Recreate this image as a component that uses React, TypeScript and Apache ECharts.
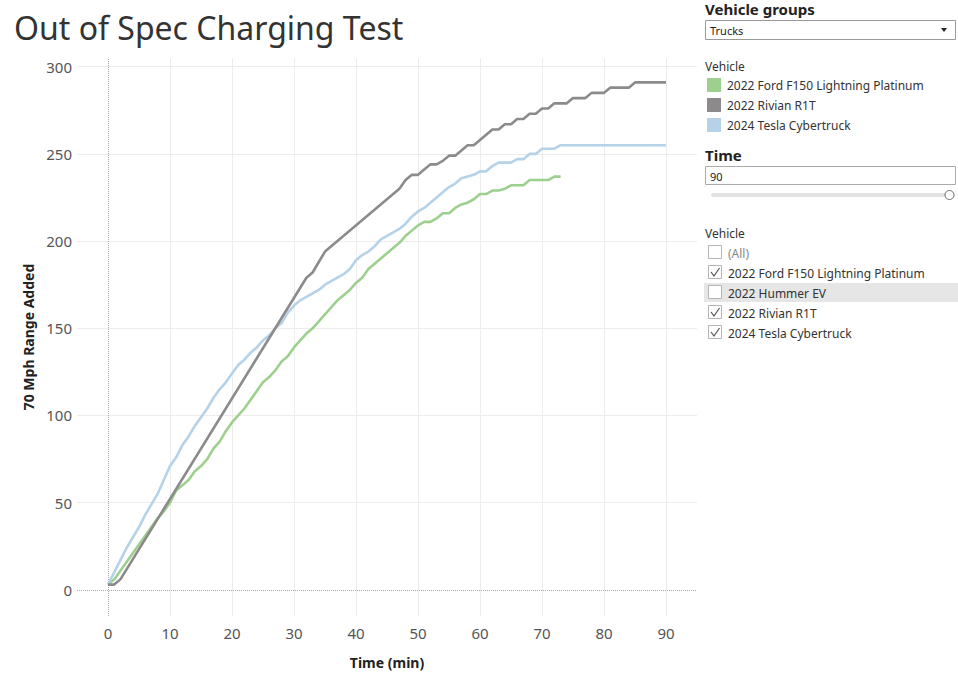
import React, { useEffect, useRef } from "react";
import * as echarts from "echarts";

const timeTicks = [0, 10, 20, 30, 40, 50, 60, 70, 80, 90];
const rangeTicks = [0, 50, 100, 150, 200, 250, 300];

const fordF150: number[][] = [
  [0, 3], [1, 6], [2, 11], [3, 16], [4, 21], [5, 26], [6, 31], [7, 36], [8, 41], [9, 45],
  [10, 50], [11, 57], [12, 60], [13, 63], [14, 68], [15, 71], [16, 75], [17, 81], [18, 85], [19, 91],
  [20, 96], [21, 100], [22, 104], [23, 109], [24, 114], [25, 119], [26, 122], [27, 126], [28, 131], [29, 134],
  [30, 139], [31, 143], [32, 147], [33, 150], [34, 154], [35, 158], [36, 162], [37, 166], [38, 169], [39, 172],
  [40, 176], [41, 179], [42, 184], [43, 187], [44, 190], [45, 193], [46, 196], [47, 199], [48, 203], [49, 206],
  [50, 209], [51, 211], [52, 211], [53, 213], [54, 216], [55, 216], [56, 219], [57, 221], [58, 222], [59, 224],
  [60, 227], [61, 227], [62, 229], [63, 229], [64, 230], [65, 232], [66, 232], [67, 232], [68, 235], [69, 235],
  [70, 235], [71, 235], [72, 237], [73, 237],
];

const rivianR1T: number[][] = [
  [0, 3], [1, 3], [2, 6], [32, 179], [33, 182], [34, 188], [35, 194], [47, 230], [48, 235], [49, 238],
  [50, 238], [51, 241], [52, 244], [53, 244], [54, 246], [55, 249], [56, 249], [57, 252], [58, 255], [59, 255],
  [60, 258], [61, 261], [62, 264], [63, 264], [64, 267], [65, 267], [66, 270], [67, 270], [68, 273], [69, 273],
  [70, 276], [71, 276], [72, 279], [73, 279], [74, 279], [75, 282], [76, 282], [77, 282], [78, 285], [79, 285],
  [80, 285], [81, 288], [82, 288], [83, 288], [84, 288], [85, 291], [86, 291], [87, 291], [88, 291], [89, 291],
  [90, 291],
];

const teslaCybertruck: number[][] = [
  [0, 3], [1, 10], [2, 17], [3, 24], [4, 30], [5, 36], [6, 43], [7, 49], [8, 55], [9, 63],
  [10, 71], [11, 76], [12, 83], [13, 88], [14, 94], [15, 99], [16, 104], [17, 110], [18, 115], [19, 119],
  [20, 124], [21, 129], [22, 132], [23, 136], [24, 139], [25, 143], [26, 146], [27, 150], [28, 153], [29, 159],
  [30, 163], [31, 166], [32, 168], [33, 170], [34, 172], [35, 175], [36, 177], [37, 179], [38, 181], [39, 184],
  [40, 189], [41, 192], [42, 194], [43, 197], [44, 201], [45, 203], [46, 205], [47, 207], [48, 210], [49, 214],
  [50, 217], [51, 219], [52, 222], [53, 225], [54, 228], [55, 231], [56, 233], [57, 236], [58, 237], [59, 238],
  [60, 240], [61, 240], [62, 243], [63, 245], [64, 245], [65, 245], [66, 247], [67, 247], [68, 250], [69, 250],
  [70, 253], [71, 253], [72, 253], [73, 255], [74, 255], [75, 255], [76, 255], [77, 255], [78, 255], [79, 255],
  [80, 255], [81, 255], [82, 255], [83, 255], [84, 255], [85, 255], [86, 255], [87, 255], [88, 255], [89, 255],
  [90, 255],
];

const seriesNames = ["2022 Ford F150 Lightning Platinum", "2022 Rivian R1T", "2024 Tesla Cybertruck"];
const seriesColors = ["#9dd08e", "#8c8a8a", "#b5d2e8"];
const seriesData = [fordF150, rivianR1T, teslaCybertruck];

const filterVehicles = ["(All)", "2022 Ford F150 Lightning Platinum", "2022 Hummer EV", "2022 Rivian R1T", "2024 Tesla Cybertruck"];
const filterChecked = [false, true, false, true, true];

const titleText = "Out of Spec Charging Test";
const vehicleGroup = "Trucks";
const timeValue = "90";

const FONT = "'Noto Sans', 'Open Sans', sans-serif";

export default function App() {
  const ref = useRef<HTMLDivElement>(null);

  useEffect(() => {
    if (!ref.current) return;
    const chart = echarts.init(ref.current, undefined, { renderer: "svg" });

    const panelX = 705;
    const graphics: any[] = [];
    graphics.push({
      type: "text", left: 14, top: 11,
      style: { text: titleText, font: `400 32px ${FONT}`, fill: "#333" },
    });
    graphics.push({
      type: "text", x: panelX, y: 9,
      style: { text: "Vehicle groups", font: `700 15px ${FONT}`, fill: "#222", verticalAlign: "middle" },
    });
    graphics.push({
      type: "rect", shape: { x: 705.5, y: 20.5, width: 250, height: 19 },
      style: { fill: "#fff", stroke: "#9a9a9a", lineWidth: 1 },
    });
    graphics.push({
      type: "text", x: 710, y: 30,
      style: { text: vehicleGroup, font: `400 11px ${FONT}`, fill: "#222", verticalAlign: "middle" },
    });
    graphics.push({
      type: "polygon", shape: { points: [[941, 28], [947, 28], [944, 32]] },
      style: { fill: "#222" },
    });
    graphics.push({
      type: "text", x: panelX, y: 66,
      style: { text: "Vehicle", font: `400 12px ${FONT}`, fill: "#333", verticalAlign: "middle" },
    });
    seriesNames.forEach((n, i) => {
      graphics.push({
        type: "rect", shape: { x: 707, y: 78 + i * 20, width: 14, height: 14 },
        style: { fill: seriesColors[i] },
      });
      graphics.push({
        type: "text", x: 727, y: 85 + i * 20,
        style: { text: n, font: `400 12px ${FONT}`, fill: "#333", verticalAlign: "middle" },
      });
    });
    graphics.push({
      type: "text", x: panelX, y: 155,
      style: { text: "Time", font: `700 15px ${FONT}`, fill: "#222", verticalAlign: "middle" },
    });
    graphics.push({
      type: "rect", shape: { x: 705.5, y: 166.5, width: 250, height: 18 },
      style: { fill: "#fff", stroke: "#aaa", lineWidth: 1 },
    });
    graphics.push({
      type: "text", x: 710, y: 176,
      style: { text: timeValue, font: `400 11px ${FONT}`, fill: "#222", verticalAlign: "middle" },
    });
    graphics.push({
      type: "rect", shape: { x: 711, y: 193, width: 236, height: 4, r: 2 },
      style: { fill: "#e2e2e2" },
    });
    graphics.push({
      type: "circle", shape: { cx: 949.5, cy: 195, r: 4.5 },
      style: { fill: "#fff", stroke: "#666", lineWidth: 1 },
    });
    graphics.push({
      type: "text", x: panelX, y: 233,
      style: { text: "Vehicle", font: `400 12px ${FONT}`, fill: "#333", verticalAlign: "middle" },
    });
    graphics.push({
      type: "rect", shape: { x: 704, y: 283, width: 254, height: 19 },
      style: { fill: "#e6e6e6" },
    });
    filterVehicles.forEach((n, i) => {
      const cy = 253 + i * 20;
      graphics.push({
        type: "rect", shape: { x: 708.5, y: cy - 7.5, width: 13, height: 13 },
        style: { fill: "#fff", stroke: "#b5b5b5", lineWidth: 1 },
      });
      if (filterChecked[i]) {
        graphics.push({
          type: "polyline", shape: { points: [[711, cy - 1], [714, cy + 3], [719.5, cy - 5]] },
          style: { stroke: "#555", lineWidth: 1.2, fill: null },
        });
      }
      graphics.push({
        type: "text", x: 728, y: cy,
        style: { text: n, font: `400 12px ${FONT}`, fill: i === 0 ? "#888" : "#333", verticalAlign: "middle" },
      });
    });

    const option: any = {
      animation: false,
      backgroundColor: "#fff",
      grid: { left: 77, top: 58, width: 620, height: 558, containLabel: false },
      xAxis: {
        type: "value",
        min: -5,
        max: 95,
        name: "Time (min)",
        nameLocation: "middle",
        nameGap: 39,
        nameTextStyle: { fontFamily: FONT, fontSize: 14, fontWeight: "bold", color: "#222" },
        axisLine: { show: false },
        axisTick: { show: false, customValues: timeTicks.filter((v) => v !== 0) },
        axisLabel: { customValues: timeTicks, fontFamily: FONT, fontSize: 15, color: "#555", margin: 9 },
        splitLine: { show: true, lineStyle: { color: "#ececec", width: 1 } },
      },
      yAxis: {
        type: "value",
        min: -15,
        max: 305,
        name: "70 Mph Range Added",
        nameLocation: "middle",
        nameGap: 42,
        nameRotate: 90,
        nameTextStyle: { fontFamily: FONT, fontSize: 14, fontWeight: "bold", color: "#222" },
        axisLine: { show: false },
        axisTick: { show: false, customValues: rangeTicks.filter((v) => v !== 0) },
        axisLabel: { customValues: rangeTicks, fontFamily: FONT, fontSize: 15, color: "#555", margin: 5 },
        splitLine: { show: true, lineStyle: { color: "#ececec", width: 1 } },
      },
      series: seriesNames.map((n, i) => ({
        name: n,
        type: "line",
        data: seriesData[i],
        showSymbol: false,
        symbol: "none",
        lineStyle: { color: seriesColors[i], width: 2.6 },
        itemStyle: { color: seriesColors[i] },
        z: i === 1 ? 3 : 2,
        markLine: i === 0 ? {
          silent: true,
          symbol: ["none", "none"],
          label: { show: false },
          lineStyle: { type: "dotted", color: "#aaa", width: 1 },
          data: [{ xAxis: 0 }, { yAxis: 0 }],
          z: 1,
        } : undefined,
      })),
      graphic: graphics,
    };

    chart.setOption(option);
    return () => chart.dispose();
  }, []);

  return <div ref={ref} style={{ position: "fixed", left: 0, top: 0, width: 958, height: 675 }} />;
}
